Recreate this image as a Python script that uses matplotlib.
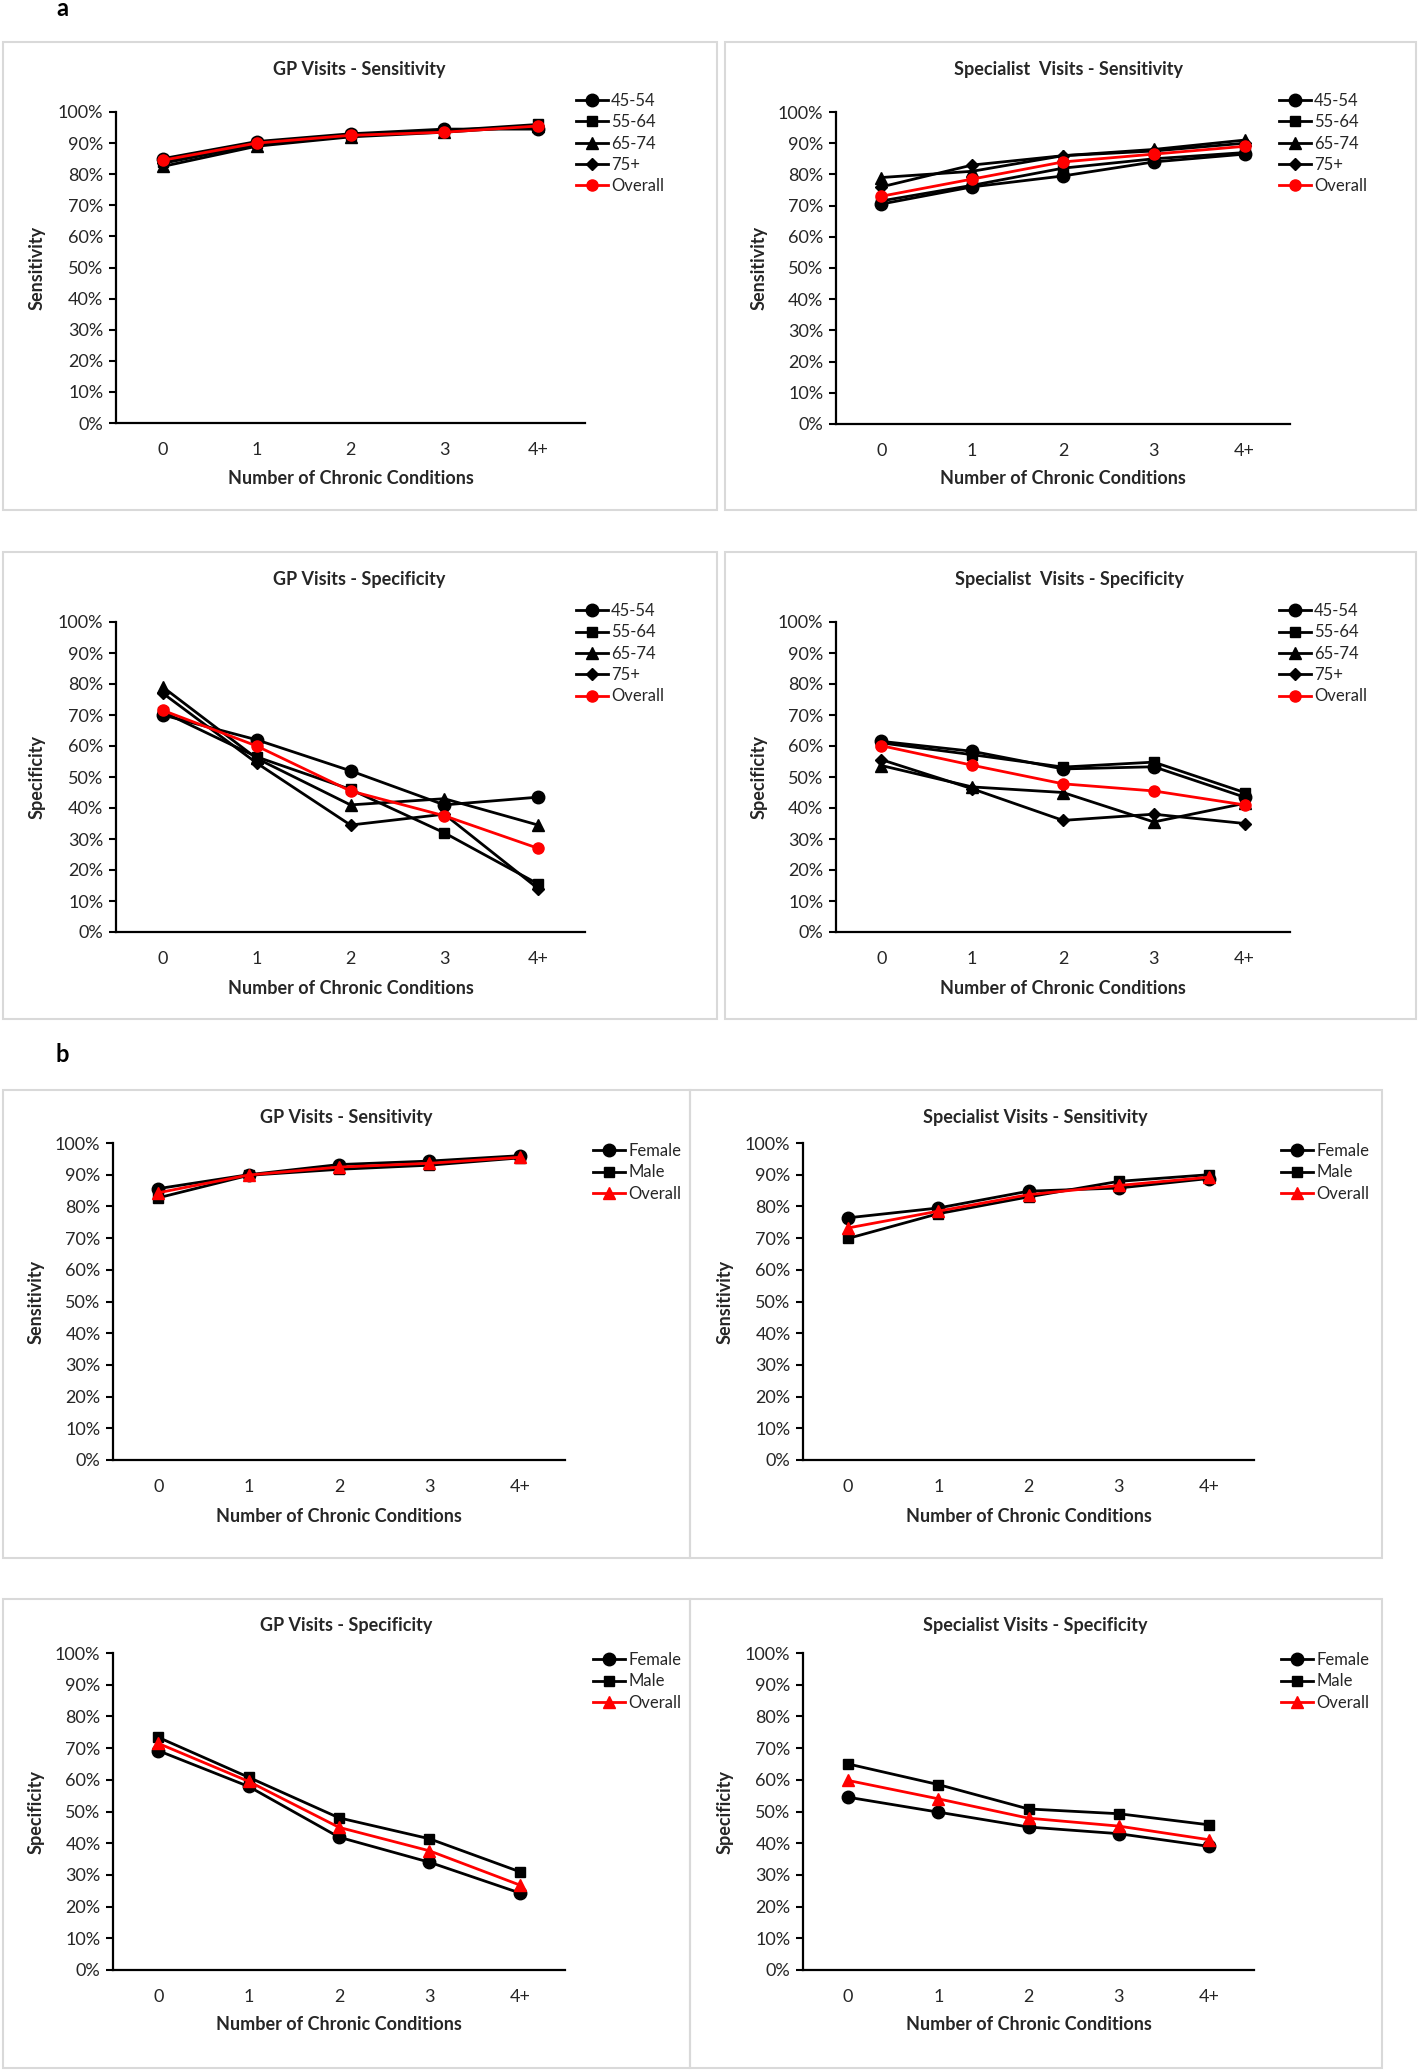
import matplotlib
matplotlib.use("Agg")
import matplotlib.pyplot as plt
from matplotlib.patches import Rectangle
from matplotlib.ticker import PercentFormatter

plt.rcParams['font.family'] = ['Lato', 'DejaVu Sans']

W, H = 1418, 2071

cats = ['0', '1', '2', '3', '4+']

# panel a - by age group
age_groups = ['45-54', '55-64', '65-74', '75+']

gp_sens_age = [
    [85, 90.5, 93, 94.5, 94.5],
    [84, 90, 92.5, 94, 96],
    [82.5, 89, 92, 93.5, 95.5],
    [83.5, 89.5, 92.5, 94, 95.5],
]
gp_sens_age_all = [84.5, 90, 92.5, 93.5, 95.5]

sp_sens_age = [
    [70.5, 76, 79.5, 84, 86.5],
    [71.5, 76.5, 82, 85, 87],
    [79, 81, 86, 88, 91],
    [76, 83, 86, 87.5, 90],
]
sp_sens_age_all = [73, 78.5, 84, 86.5, 89]

gp_spec_age = [
    [70, 62, 52, 41, 43.5],
    [71, 56.5, 46, 32, 15.5],
    [79, 56, 41, 43, 34.5],
    [77, 54.5, 34.5, 38, 14],
]
gp_spec_age_all = [71.5, 60, 45.5, 37.5, 27]

sp_spec_age = [
    [61.5, 58.3, 52.6, 53.3, 43.5],
    [61, 57.2, 53.2, 54.8, 45],
    [53.7, 46.8, 45, 35.5, 41.5],
    [55.6, 46.2, 36, 38, 35],
]
sp_spec_age_all = [60.1, 53.8, 47.8, 45.5, 41]

# panel b - by sex
sexes = ['Female', 'Male']

gp_sens_sex = [
    [85.6, 90, 93.2, 94.3, 96],
    [82.7, 89.8, 91.7, 93, 95.3],
]
gp_sens_sex_all = [84.3, 89.9, 92.4, 93.6, 95.5]

sp_sens_sex = [
    [76.4, 79.5, 84.8, 85.8, 88.8],
    [69.9, 77.7, 83, 87.9, 90],
]
sp_sens_sex_all = [73.2, 78.5, 83.7, 86.6, 89.2]

gp_spec_sex = [
    [69.2, 57.9, 41.9, 34, 24.3],
    [73.4, 60.8, 48, 41.4, 31],
]
gp_spec_sex_all = [71.5, 59.5, 45, 37.6, 26.8]

sp_spec_sex = [
    [54.5, 49.8, 45.1, 43, 39],
    [65, 58.5, 50.8, 49.3, 45.8],
]
sp_spec_sex_all = [59.8, 54, 47.9, 45.4, 41.1]

age_markers = [('o', 9), ('s', 7.5), ('^', 8.5), ('D', 6)]
sex_markers = [('o', 9), ('s', 7.5)]

fig = plt.figure(figsize=(W / 100, H / 100), dpi=100)


def box(x0, y0, x1, y1):
    fig.patches.append(Rectangle((x0 / W, 1 - y1 / H), (x1 - x0) / W, (y1 - y0) / H,
                                 transform=fig.transFigure, fill=False,
                                 edgecolor='#d9d9d9', linewidth=1.5))


def panel(l, r, t, b, title, title_x, title_y, ylab, ylab_x,
          names, series, markers, overall, over_marker, leg_x, leg_y, xlab_y):
    ax = fig.add_axes([l / W, 1 - b / H, (r - l) / W, (b - t) / H])
    x = list(range(len(cats)))
    for name, vals, (m, ms) in zip(names, series, markers):
        ax.plot(x, [v / 100 for v in vals], color='black', lw=2, marker=m, ms=ms,
                label=name)
    m, ms = over_marker
    ax.plot(x, [v / 100 for v in overall], color='#ff0000', lw=2, marker=m, ms=ms,
            label='Overall')
    ax.set_xlim(-0.5, 4.5)
    ax.set_ylim(0, 1)
    ax.set_yticks([i / 10 for i in range(11)])
    ax.yaxis.set_major_formatter(PercentFormatter(1.0, decimals=0))
    ax.set_xticks(x)
    ax.set_xticklabels(cats)
    for s in ['top', 'right']:
        ax.spines[s].set_visible(False)
    for s in ['left', 'bottom']:
        ax.spines[s].set_linewidth(1.6)
    ax.tick_params(axis='y', length=5, width=1.5, pad=4, labelsize=13, colors='#262626')
    ax.tick_params(axis='x', length=0, pad=14, labelsize=13, colors='#262626')
    ax.tick_params(axis='both', color='black')
    fig.text(title_x / W, 1 - title_y / H, title, ha='center', va='center',
             fontsize=13, fontweight='bold', color='#262626')
    fig.text(ylab_x / W, 1 - (t + b) / 2 / H, ylab, ha='center', va='center',
             rotation=90, fontsize=13, fontweight='bold', color='#262626')
    fig.text((l + r) / 2 / W, 1 - xlab_y / H, 'Number of Chronic Conditions',
             ha='center', va='center', fontsize=13, fontweight='bold', color='#262626')
    leg = ax.legend(loc='upper left', bbox_to_anchor=(leg_x / W, 1 - leg_y / H),
                    bbox_transform=fig.transFigure, frameon=False, fontsize=12,
                    borderpad=0, borderaxespad=0, handlelength=1.9,
                    handletextpad=0.2, labelspacing=0.32)
    for txt in leg.get_texts():
        txt.set_color('#262626')
    return ax


# frames
box(3, 42, 717, 510)
box(725, 42, 1416, 510)
box(3, 552, 717, 1019)
box(725, 552, 1416, 1019)
box(3, 1090, 690, 1558)
box(690, 1090, 1382, 1558)
box(3, 1599, 690, 2068)
box(690, 1599, 1382, 2068)

fig.text(62 / W, 1 - 8 / H, 'a', ha='center', va='center', fontsize=17, fontweight='bold')
fig.text(62 / W, 1 - 1054 / H, 'b', ha='center', va='center', fontsize=17, fontweight='bold')

# panel a
panel(116, 585, 112, 423, 'GP Visits - Sensitivity', 359, 69, 'Sensitivity', 37,
      age_groups, gp_sens_age, age_markers, gp_sens_age_all, ('o', 8), 576, 93, 478)
panel(836, 1290, 112, 424, 'Specialist  Visits - Sensitivity', 1069, 69, 'Sensitivity', 759,
      age_groups, sp_sens_age, age_markers, sp_sens_age_all, ('o', 8), 1279, 93, 478)
panel(116, 585, 622, 932, 'GP Visits - Specificity', 359, 579, 'Specificity', 37,
      age_groups, gp_spec_age, age_markers, gp_spec_age_all, ('o', 8), 576, 603, 988)
panel(836, 1290, 622, 932, 'Specialist  Visits - Specificity', 1069, 579, 'Specificity', 759,
      age_groups, sp_spec_age, age_markers, sp_spec_age_all, ('o', 8), 1279, 603, 988)

# panel b
panel(113, 565, 1143, 1460, 'GP Visits - Sensitivity', 346, 1117, 'Sensitivity', 36,
      sexes, gp_sens_sex, sex_markers, gp_sens_sex_all, ('^', 8.5), 593, 1143, 1516)
panel(803, 1254, 1143, 1460, 'Specialist Visits - Sensitivity', 1035, 1117, 'Sensitivity', 725,
      sexes, sp_sens_sex, sex_markers, sp_sens_sex_all, ('^', 8.5), 1281, 1143, 1516)
panel(113, 565, 1653, 1970, 'GP Visits - Specificity', 346, 1625, 'Specificity', 36,
      sexes, gp_spec_sex, sex_markers, gp_spec_sex_all, ('^', 8.5), 593, 1652, 2025)
panel(803, 1254, 1653, 1970, 'Specialist Visits - Specificity', 1035, 1625, 'Specificity', 725,
      sexes, sp_spec_sex, sex_markers, sp_spec_sex_all, ('^', 8.5), 1281, 1652, 2025)

fig.savefig('out.png', dpi=100)
